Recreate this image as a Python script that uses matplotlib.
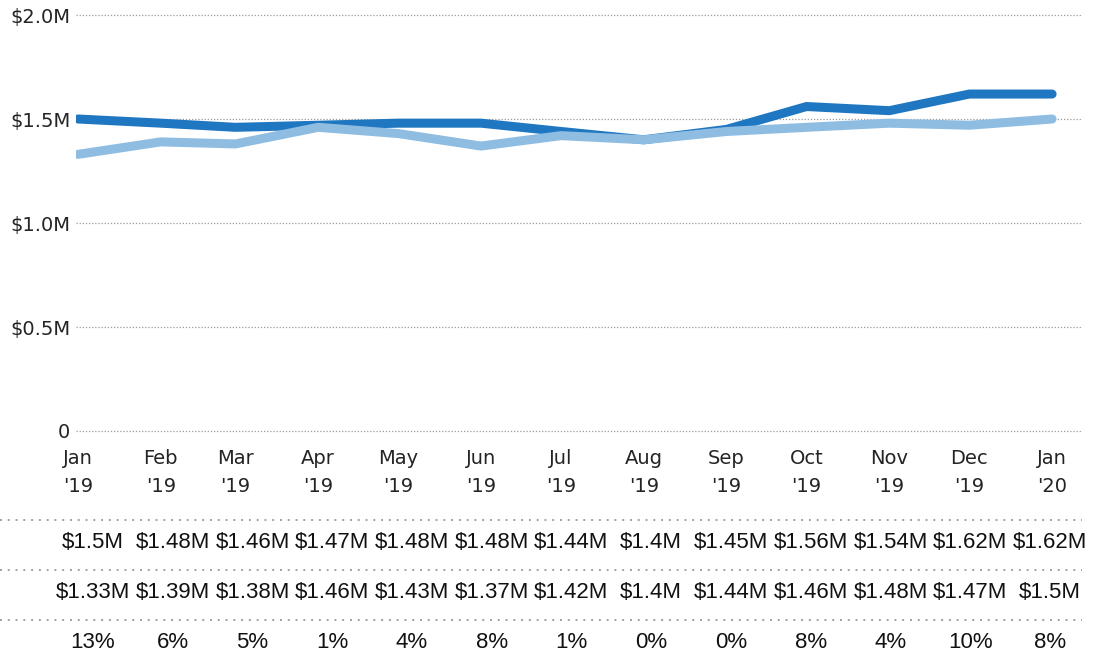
import numpy as np
import pandas as pd
import matplotlib
matplotlib.use('Agg')
import matplotlib.pyplot as plt
import matplotlib.dates as mdates
from matplotlib.ticker import FuncFormatter

months = pd.date_range('2019-01-01', '2020-01-01', freq='MS')
tick_labels = ["Jan\n'19", "Feb\n'19", "Mar\n'19", "Apr\n'19", "May\n'19", "Jun\n'19", "Jul\n'19",
               "Aug\n'19", "Sep\n'19", "Oct\n'19", "Nov\n'19", "Dec\n'19", "Jan\n'20"]
current = [1.50, 1.48, 1.46, 1.47, 1.48, 1.48, 1.44, 1.40, 1.45, 1.56, 1.54, 1.62, 1.62]
previous = [1.33, 1.39, 1.38, 1.46, 1.43, 1.37, 1.42, 1.40, 1.44, 1.46, 1.48, 1.47, 1.50]
current_txt = ['$1.5M', '$1.48M', '$1.46M', '$1.47M', '$1.48M', '$1.48M', '$1.44M',
               '$1.4M', '$1.45M', '$1.56M', '$1.54M', '$1.62M', '$1.62M']
previous_txt = ['$1.33M', '$1.39M', '$1.38M', '$1.46M', '$1.43M', '$1.37M', '$1.42M',
                '$1.4M', '$1.44M', '$1.46M', '$1.48M', '$1.47M', '$1.5M']
pct_txt = ['13%', '6%', '5%', '1%', '4%', '8%', '1%', '0%', '0%', '8%', '4%', '10%', '8%']

W, H = 1101, 660
fig = plt.figure(figsize=(W / 100, H / 100), dpi=100)

# main line chart
ax = fig.add_axes([76 / W, 1 - 431 / H, 1006 / W, 416 / H])
dark = '#1f77c1'
light = '#8fbde2'
ax.plot(months, current, color=dark, lw=6.5, solid_capstyle='round', solid_joinstyle='round', zorder=3)
ax.plot(months, previous, color=light, lw=6.5, solid_capstyle='round', solid_joinstyle='round', zorder=4)

x0 = mdates.date2num(pd.Timestamp('2019-01-01'))
ax.set_xlim(x0 - 0.75, x0 + 376.2)
ax.set_ylim(0, 2.0)
ax.set_yticks([0, 0.5, 1.0, 1.5, 2.0])
ax.yaxis.set_major_formatter(FuncFormatter(lambda v, p: '0' if v == 0 else f'${v:.1f}M'))
ax.set_xticks(months)
ax.set_xticklabels(tick_labels, linespacing=1.6)
ax.tick_params(axis='both', length=0, labelsize=14, labelcolor='#252423')
ax.tick_params(axis='y', pad=4)
ax.tick_params(axis='x', pad=13)
ax.grid(axis='y', linestyle=(0, (1, 1.5)), color='#9a9a9a', lw=0.9)
for gl in ax.get_ygridlines():
    gl.set_clip_on(False)
for s in ax.spines.values():
    s.set_visible(False)

# table below
tab = fig.add_axes([0, 0, 1, 160 / H])
tab.set_ylim(660, 500)
scale = (1050 - 93) / 12
tab.set_xlim(-93 / scale, (W - 93) / scale)
tab.axis('off')
tab.hlines([520, 570, 620], -93 / scale, (1082 - 93) / scale, colors='#a0a0a0',
           linestyles=(0, (1, 3)), lw=1.4)
for i in range(len(months)):
    tab.text(i, 543, current_txt[i], ha='center', va='center', fontsize=16,
             family='Liberation Sans', color='#111111')
    tab.text(i, 593, previous_txt[i], ha='center', va='center', fontsize=16,
             family='Liberation Sans', color='#111111')
    tab.text(i, 642, pct_txt[i], ha='center', va='center', fontsize=16,
             family='Liberation Sans', color='#111111')

fig.savefig('out.png', dpi=100)
